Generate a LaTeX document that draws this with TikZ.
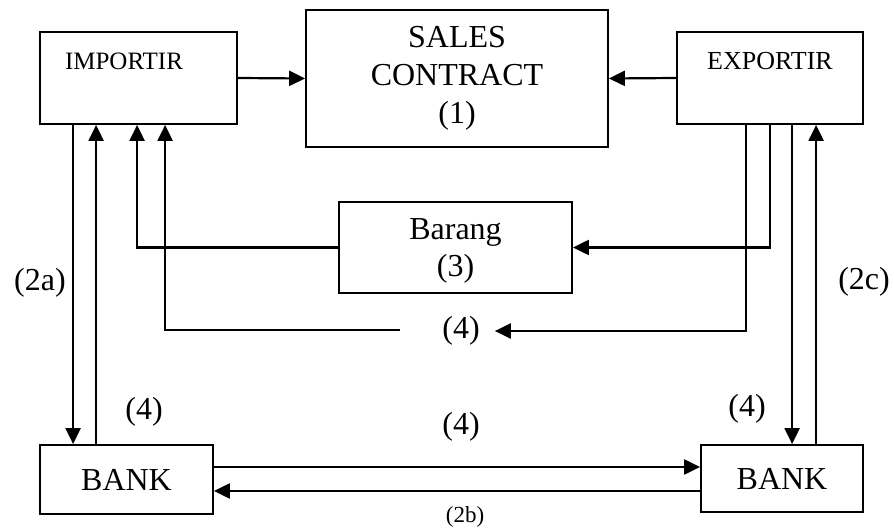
\documentclass[tikz,border=0pt]{standalone}
\usepackage{fontspec}
\setmainfont{Liberation Serif}
\usetikzlibrary{arrows.meta}
\begin{document}
\begin{tikzpicture}[x=1pt,y=-1pt,
  box/.style={draw, line width=1.8pt, inner sep=0pt},
  arr/.style={line width=2.2pt, -{Triangle[length=16pt,width=15pt]}},
  big/.style={font=\fontsize{32}{38}\selectfont, align=center, inner sep=0pt},
  lbl/.style={font=\fontsize{32}{38}\selectfont, inner sep=0pt}]
\useasboundingbox (0,0) rectangle (894,529);
% Boxes
\node[box, minimum width=197pt, minimum height=92pt] (imp) at (138.5,78) {};
\node[lbl, font=\fontsize{25}{30}\selectfont] (imptxt) at (124,61) {IMPORTIR};
\node[box, big, minimum width=302pt, minimum height=137pt] (sc) at (457,78.5) {SALES\\CONTRACT\\(1)};
\node[box, minimum width=186pt, minimum height=92pt] (exp) at (770,78) {};
\node[lbl, font=\fontsize{26}{30}\selectfont] (exptxt) at (770,61) {EXPORTIR};
\node[box, minimum width=233pt, minimum height=91pt] (brg) at (455.5,247.5) {};
\node[big, font=\fontsize{32}{37}\selectfont] (brgtxt) at (455.5,251) {Barang\\(3)};
\node[box, lbl, minimum width=173pt, minimum height=69pt] (bankL) at (126.5,479.5) {BANK};
\node[box, lbl, minimum width=162pt, minimum height=67pt] (bankR) at (782,478.5) {BANK};
% Labels
\node[lbl] (l2a) at (40,283) {(2a)};
\node[lbl] (l2c) at (864,282) {(2c)};
\node[lbl] (l4a) at (144,412) {(4)};
\node[lbl] (l4m) at (461,331) {(4)};
\node[lbl] (l4b) at (461,427) {(4)};
\node[lbl] (l4c) at (747,409) {(4)};
\node[lbl, font=\fontsize{23}{28}\selectfont] (l2b) at (465,517) {(2b)};
\coordinate (c4) at (400,330);
% Contract
\draw[arr] (imp.east) -- (sc.west);
\draw[arr] (exp.west) -- (sc.east);
% Importir side
\draw[arr] ([xshift=34pt]imp.south west) coordinate (i1) -- (i1 |- bankL.north);
\draw[arr] ([xshift=57pt]bankL.north west) coordinate (i2) -- (i2 |- imp.south);
\draw[arr] (brg.west) -| ([xshift=98pt]imp.south west);
\draw[arr] (c4) -| ([xshift=126pt]imp.south west);
% Exportir side
\draw[arr] ([xshift=70pt]exp.south west) |- ([xshift=15pt]l4m.east);
\draw[arr] ([xshift=94pt]exp.south west) |- (brg.east);
\draw[arr] ([xshift=116pt]exp.south west) coordinate (e3) -- (e3 |- bankR.north);
\draw[arr] ([xshift=116pt]bankR.north west) coordinate (e4) -- (e4 |- exp.south);
% Bank to bank
\draw[arr] ([yshift=12.5pt]bankL.east) coordinate (b1) -- (b1 -| bankR.west);
\draw[arr] ([yshift=-12.5pt]bankR.west) coordinate (b2) -- (b2 -| bankL.east);
\end{tikzpicture}
\end{document}
